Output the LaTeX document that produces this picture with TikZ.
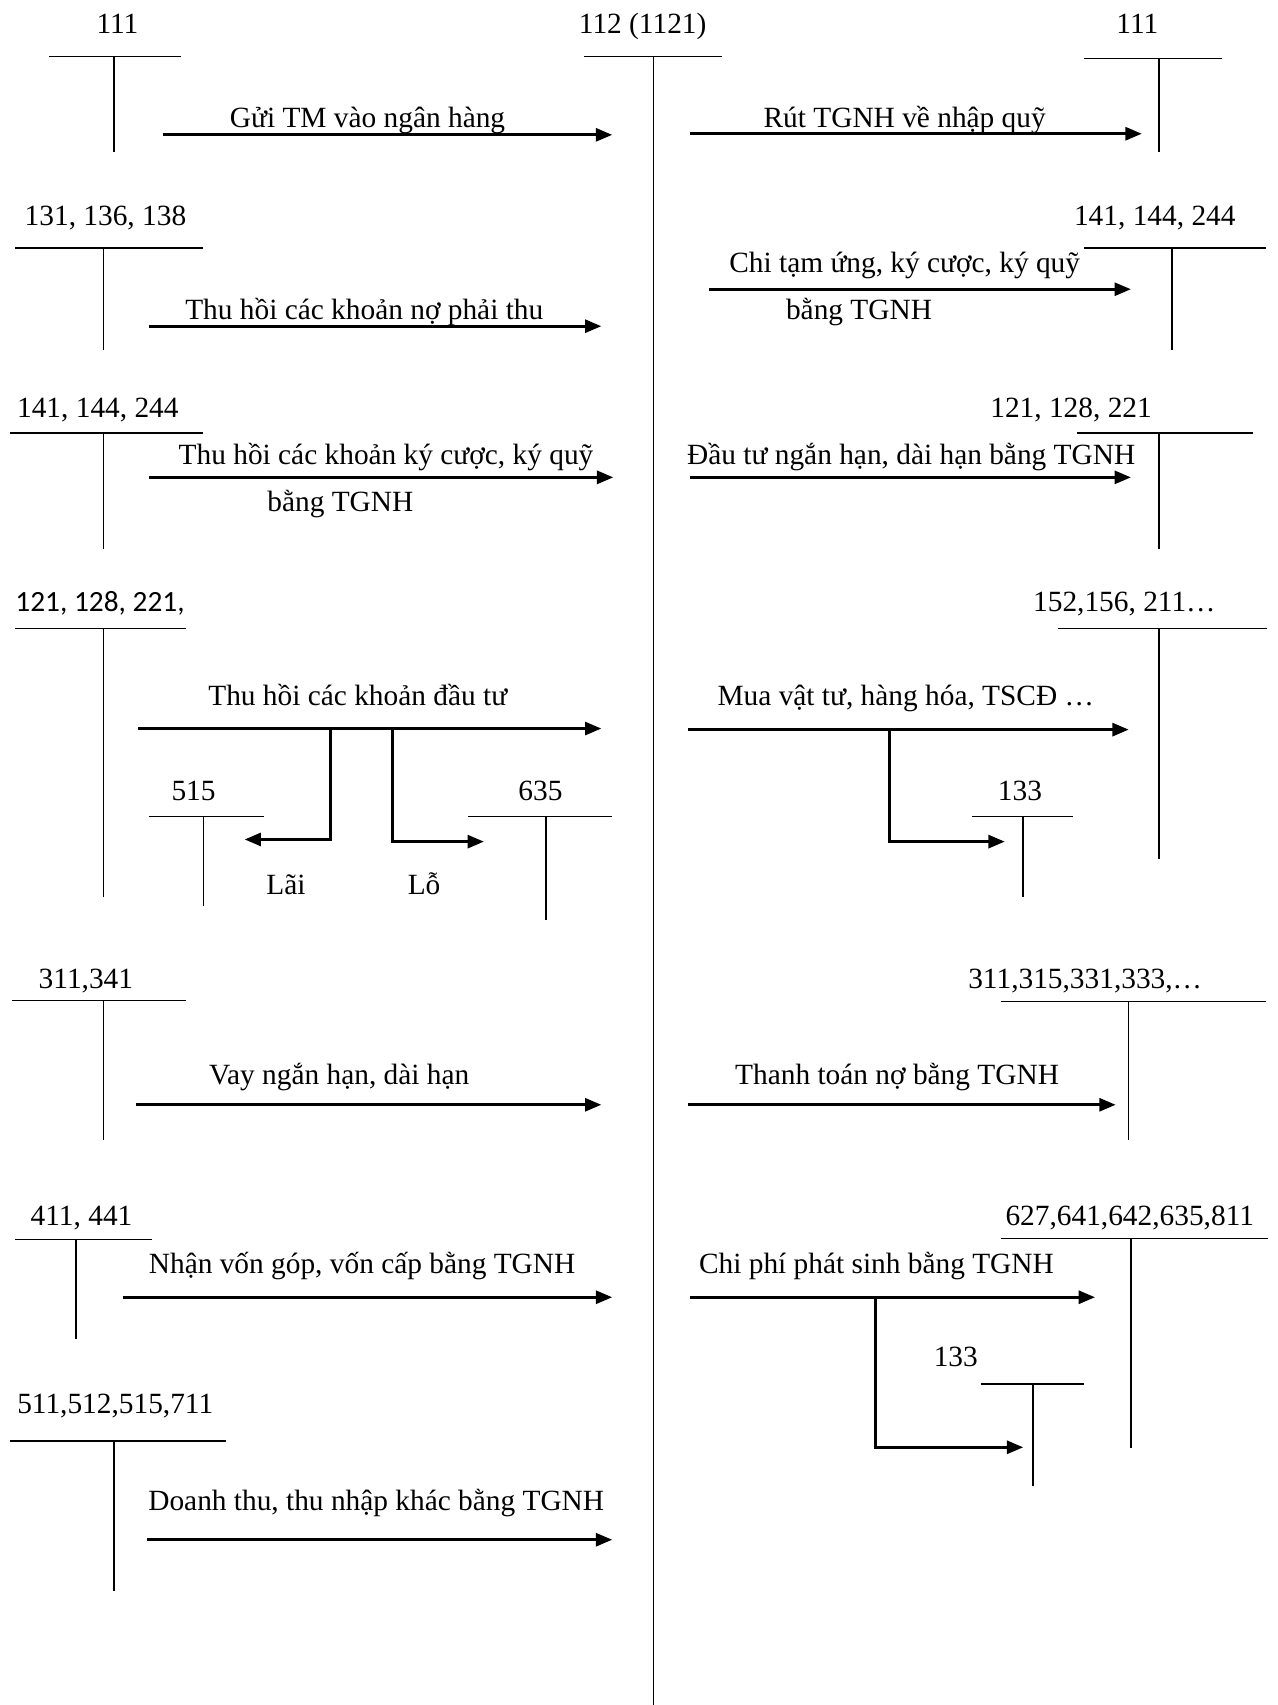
\documentclass[tikz,border=0pt]{standalone}
\usepackage{fontspec}
\setmainfont{Liberation Serif}
\newfontfamily\calib{Carlito}
\usetikzlibrary{arrows.meta}
\tikzset{
  lbl/.style={anchor=base, inner sep=0pt, font=\fontsize{27}{30}\selectfont},
  tline/.style={line width=1.4pt},
  mainbar/.style={line width=1pt},
  flow/.style={line width=2.5pt, -{Triangle[length=15pt,width=12pt]}},
}
% T-account: name, label, label x, label baseline y, line x1, line x2, line y, vertical x, vertical bottom y
\newcommand\taccount[9]{%
  \node[lbl] (#1) at (#3,#4) {#2};
  \draw[tline] (#5,#7) -- (#6,#7);
  \draw[tline] (#8,#7) -- (#8,#9);
}
\begin{document}
\begin{tikzpicture}[x=1pt,y=-1pt]
\fill[white] (0,0) rectangle (1175,1568);
\path[use as bounding box] (0,0) rectangle (1175,1568);

% main account 112
\node[lbl] (main) at (591,31) {112 (1121)};
\draw[tline] (537,52) -- (664,52);
\draw[mainbar] (601,52) -- (601,1568);

% ---------- Row 1
\taccount{tA}{111}{108}{31}{45}{166}{52}{105}{140}
\taccount{tB}{111}{1046}{31}{997}{1124}{54}{1066}{140}
\coordinate (a1s) at (150,124); \coordinate (a1e) at (563,124);
\draw[flow] (a1s) -- (a1e);
\node[lbl] (l1) at (338,117) {Gửi TM vào ngân hàng};
\coordinate (a2s) at (635,123); \coordinate (a2e) at (1050,123);
\draw[flow] (a2s) -- (a2e);
\node[lbl] (l2) at (832,117) {Rút TGNH về nhập quỹ};

% ---------- Row 2
\taccount{tC}{131, 136, 138}{97}{207}{14}{187}{228}{95}{322}
\taccount{tD}{141, 144, 244}{1062}{207}{997}{1164}{228}{1078}{322}
\coordinate (a3s) at (137,300); \coordinate (a3e) at (553,300);
\draw[flow] (a3s) -- (a3e);
\node[lbl] (l3) at (335,294) {Thu hồi các khoản nợ phải thu};
\coordinate (a4s) at (652,266); \coordinate (a4e) at (1040,266);
\draw[flow] (a4s) -- (a4e);
\node[lbl] (l4) at (832,251) {Chi tạm ứng, ký cược, ký quỹ};
\node[lbl] (l4b) at (790,294) {bằng TGNH};

% ---------- Row 3
\taccount{tE}{141, 144, 244}{90}{384}{9}{187}{398}{95}{505}
\taccount{tF}{121, 128, 221}{985}{384}{990}{1152}{398}{1066}{505}
\coordinate (a5s) at (137,439); \coordinate (a5e) at (564,439);
\draw[flow] (a5s) -- (a5e);
\node[lbl] (l5) at (355,427) {Thu hồi các khoản ký cược, ký quỹ};
\node[lbl] (l5b) at (313,470) {bằng TGNH};
\coordinate (a6s) at (635,439); \coordinate (a6e) at (1040,439);
\draw[flow] (a6s) -- (a6e);
\node[lbl] (l6) at (838,427) {Đầu tư ngắn hạn, dài hạn bằng TGNH};

% ---------- Row 4
\taccount{tG}{\calib 121, 128, 221,}{92}{562}{14}{171}{578}{95}{825}
\coordinate (a7s) at (127,670); \coordinate (a7e) at (553,670);
\draw[flow] (a7s) -- (a7e);
\node[lbl] (l7) at (329,649) {Thu hồi các khoản đầu tư};
\coordinate (b1) at (304,670); \coordinate (b1e) at (225,772);
\draw[flow] (b1) |- (b1e);
\coordinate (b2) at (361,670); \coordinate (b2e) at (445,774);
\draw[flow] (b2) |- (b2e);
\taccount{tH}{515}{178}{736}{137}{243}{751}{187}{833}
\taccount{tI}{635}{497}{736}{430}{563}{751}{502}{846}
\node[lbl] (lai) at (263,823) {Lãi};
\node[lbl] (lo) at (390,823) {Lỗ};

\taccount{tJ}{152,156, 211…}{1034}{562}{973}{1165}{578}{1066}{790}
\coordinate (a8s) at (633,671); \coordinate (a8e) at (1038,671);
\draw[flow] (a8s) -- (a8e);
\node[lbl] (l8) at (833,649) {Mua vật tư, hàng hóa, TSCĐ …};
\coordinate (b3) at (818,671); \coordinate (b3e) at (924,774);
\draw[flow] (b3) |- (b3e);
\taccount{tK}{133}{938}{736}{894}{987}{751}{941}{825}

% ---------- Row 5
\taccount{tL}{311,341}{79}{909}{11}{171}{920}{95}{1048}
\taccount{tM}{311,315,331,333,…}{998}{909}{921}{1164}{921}{1038}{1048}
\coordinate (a9s) at (125,1016); \coordinate (a9e) at (553,1016);
\draw[flow] (a9s) -- (a9e);
\node[lbl] (l9) at (312,997) {Vay ngắn hạn, dài hạn};
\coordinate (a10s) at (633,1016); \coordinate (a10e) at (1026,1016);
\draw[flow] (a10s) -- (a10e);
\node[lbl] (l10) at (825,997) {Thanh toán nợ bằng TGNH};

% ---------- Row 6
\taccount{tN}{411, 441}{75}{1127}{14}{140}{1140}{70}{1231}
\taccount{tO}{627,641,642,635,811}{1039}{1127}{921}{1166}{1139}{1040}{1332}
\coordinate (a11s) at (113,1193); \coordinate (a11e) at (563,1193);
\draw[flow] (a11s) -- (a11e);
\node[lbl] (l11) at (333,1171) {Nhận vốn góp, vốn cấp bằng TGNH};
\coordinate (a12s) at (635,1193); \coordinate (a12e) at (1007,1193);
\draw[flow] (a12s) -- (a12e);
\node[lbl] (l12) at (806,1171) {Chi phí phát sinh bằng TGNH};
\coordinate (b4) at (805,1193); \coordinate (b4e) at (941,1331);
\draw[flow] (b4) |- (b4e);
\taccount{tP}{133}{879}{1257}{902}{997}{1273}{950}{1367}

% ---------- Row 7
\taccount{tQ}{511,512,515,711}{106}{1300}{9}{208}{1325}{105}{1463}
\coordinate (a13s) at (135,1416); \coordinate (a13e) at (563,1416);
\draw[flow] (a13s) -- (a13e);
\node[lbl] (l13) at (346,1389) {Doanh thu, thu nhập khác bằng TGNH};
\end{tikzpicture}
\end{document}
